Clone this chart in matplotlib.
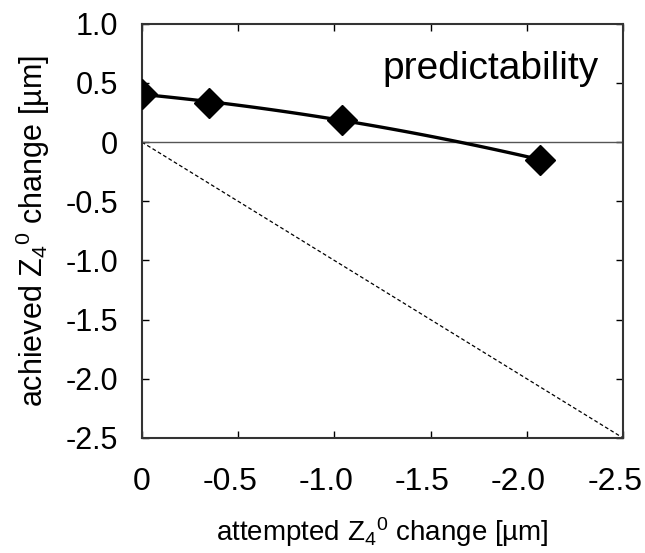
import numpy as np
import matplotlib
matplotlib.use('Agg')
import matplotlib.pyplot as plt
from matplotlib.transforms import ScaledTranslation

plt.rcParams['font.family'] = ['Liberation Sans', 'DejaVu Sans']
plt.rcParams['mathtext.fontset'] = 'custom'
plt.rcParams['mathtext.rm'] = 'Liberation Sans'
plt.rcParams['mathtext.default'] = 'regular'

# attempted vs achieved Z4^0 change [um]
attempted = [0.0, -0.35, -1.04, -2.07]
achieved = [0.41, 0.33, 0.19, -0.15]

x_ticks = [0, -0.5, -1.0, -1.5, -2.0, -2.5]
x_labels = ['0', '-0.5', '-1.0', '-1.5', '-2.0', '-2.5']
y_ticks = [1.0, 0.5, 0, -0.5, -1.0, -1.5, -2.0, -2.5]
y_labels = ['1.0', '0.5', '0', '-0.5', '-1.0', '-1.5', '-2.0', '-2.5']

fig = plt.figure(figsize=(6.45, 5.53), dpi=100)
ax = fig.add_axes([0.220, 0.208, 0.746, 0.749])

# trend line (2nd order) through measured points
coef = np.polyfit(attempted, achieved, 2)
xs = np.linspace(attempted[0], attempted[-1], 100)
ax.plot(xs, np.polyval(coef, xs), color='black', lw=2.4, zorder=3)
ax.plot(attempted, achieved, linestyle='none', marker='D', ms=15,
        color='black', zorder=4)

# ideal response and zero line
ax.plot([0, -2.5], [0, -2.5], color='black', lw=0.9, ls=(0, (3, 2)))
ax.axhline(0, color='#555555', lw=1.0)

ax.set_xlim(0, -2.5)
ax.set_ylim(-2.5, 1.0)
ax.set_xticks(x_ticks)
ax.set_xticklabels(x_labels)
ax.set_yticks(y_ticks)
ax.set_yticklabels(y_labels)
ax.tick_params(direction='in', length=5, width=1, top=True, right=True)
ax.tick_params(axis='x', labelsize=23, pad=21)
ax.tick_params(axis='y', labelsize=22, pad=17)
for s in ax.spines.values():
    s.set_linewidth(1.5)
    s.set_color('#333333')

# negative labels sit a bit left of their ticks
shift = ScaledTranslation(-6 / 72, 0, fig.dpi_scale_trans)
for lab in ax.get_xticklabels()[1:]:
    lab.set_transform(lab.get_transform() + shift)

ax.set_xlabel('attempted Z$_4$$^0$ change [µm]', fontsize=20, labelpad=13)
ax.set_ylabel('achieved Z$_4$$^0$ change [µm]', fontsize=22, labelpad=10)
ax.text(0.950, 0.89, 'predictability', transform=ax.transAxes,
        ha='right', va='center', fontsize=28)

fig.savefig('out.png', dpi=100)
